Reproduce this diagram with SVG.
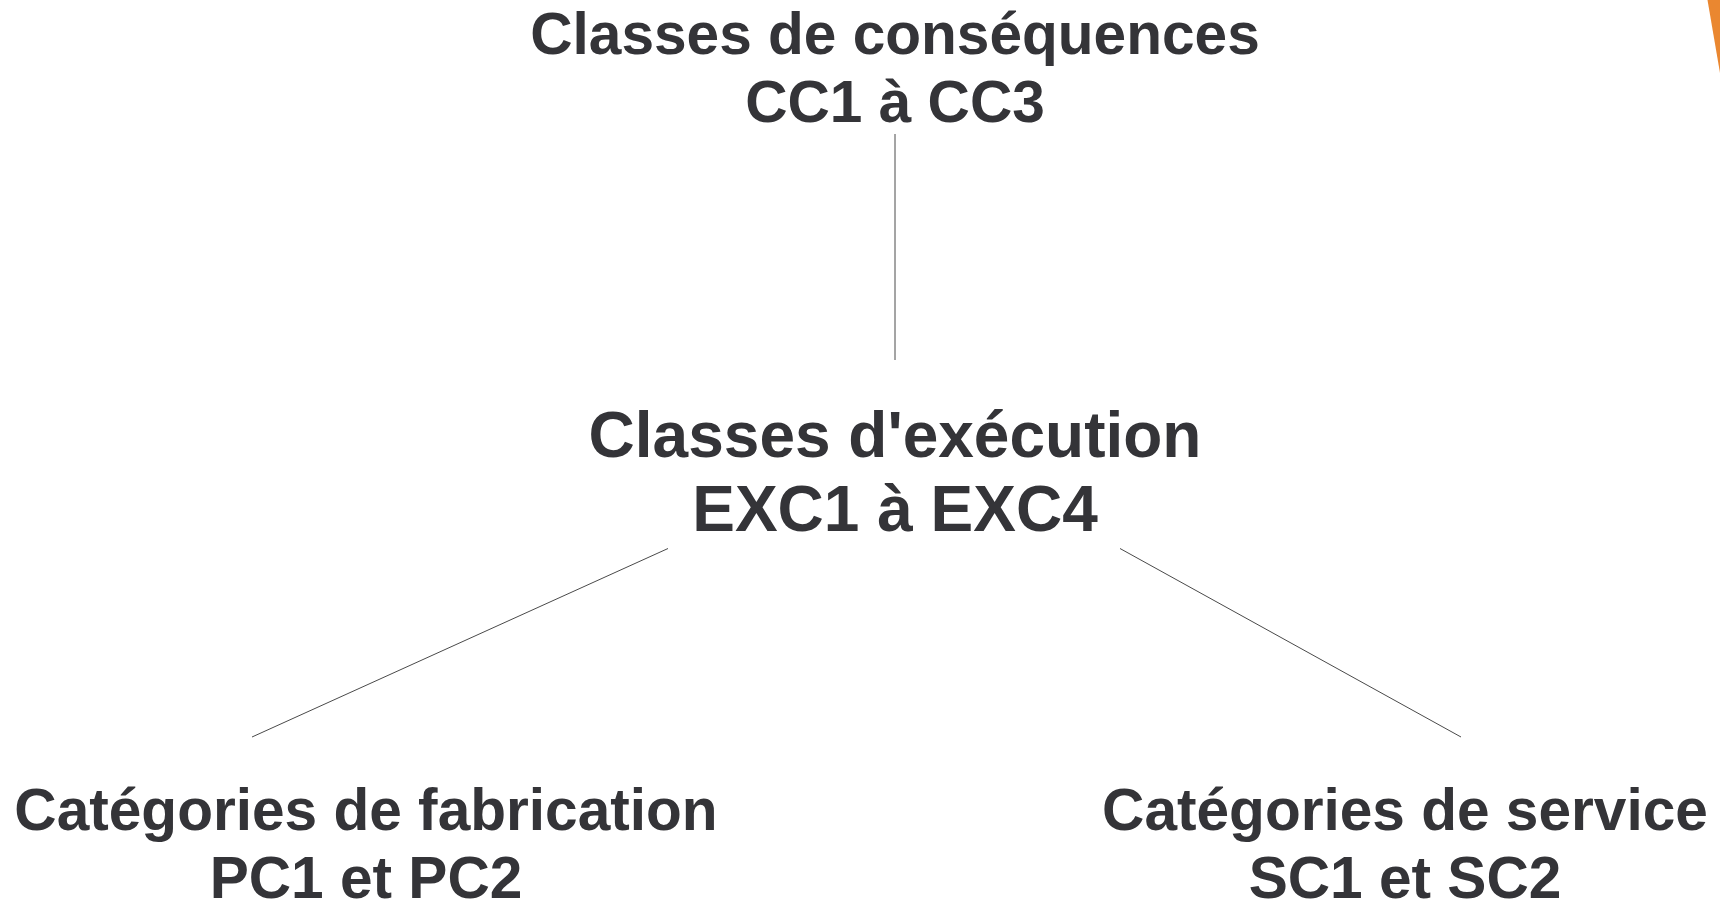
<svg xmlns="http://www.w3.org/2000/svg" width="1720" height="899" viewBox="0 0 1720 899">
<style>
.t{font-family:"Liberation Sans",Arial,sans-serif;font-weight:bold;font-size:58.6px;fill:#343438;text-anchor:middle}
.m{font-size:64px}
.c{stroke:#4a4a4a;stroke-width:1;fill:none}
</style>
<rect width="1720" height="899" fill="#ffffff"/>
<polygon points="1707.5,0 1720,0 1720,73" fill="#EA8730"/>
<g id="connectors">
<line class="c" x1="895" y1="134" x2="895" y2="360"/>
<line class="c" x1="668" y1="548.5" x2="252" y2="737"/>
<line class="c" x1="1120" y1="548.5" x2="1461" y2="737"/>
</g>
<g id="node-cc">
<text class="t" x="895" y="54">Classes de conséquences</text>
<text class="t" x="895" y="122">CC1 à CC3</text>
</g>
<g id="node-exc">
<text class="t m" x="895" y="457">Classes d'exécution</text>
<text class="t m" x="895" y="531">EXC1 à EXC4</text>
</g>
<g id="node-pc">
<text class="t" x="366" y="830">Catégories de fabrication</text>
<text class="t" x="366" y="898">PC1 et PC2</text>
</g>
<g id="node-sc">
<text class="t" x="1405" y="830">Catégories de service</text>
<text class="t" x="1405" y="898">SC1 et SC2</text>
</g>
</svg>
